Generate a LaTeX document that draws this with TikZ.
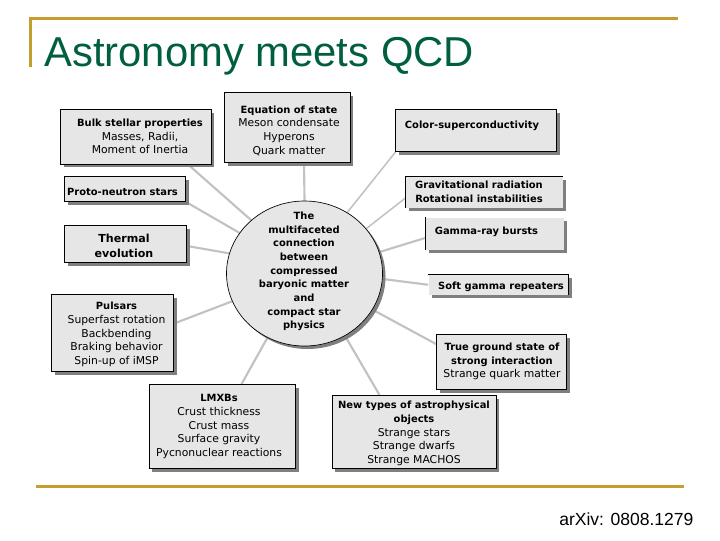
\documentclass[tikz,border=0pt]{standalone}
\usepackage{fontspec}
\setmainfont{DejaVu Sans}
\newfontfamily\arialfont{Liberation Sans}
\usetikzlibrary{fit,shadows,shapes.geometric,backgrounds,calc}
\definecolor{gold}{HTML}{C39F2F}
\definecolor{titlegreen}{HTML}{005F3E}
\definecolor{panelfill}{HTML}{E6E6E6}
\definecolor{shade}{HTML}{7F7F7F}
\definecolor{linkgray}{HTML}{C2C2C2}
\newcommand\hd[1]{{\fontsize{7.45}{10.25}\selectfont\bfseries #1}}
\tikzset{
  x=0.75pt,y=-0.75pt,
  rule/.style={draw=gold,line width=2.25pt},
  shadowed/.style={copy shadow={shadow xshift=2.25pt,shadow yshift=-2.25pt,fill=shade,draw=none}},
  panel/.style={shadowed,fill=panelfill,draw=black,line width=0.7pt,inner sep=0pt},
  openpanel/.style={shadowed,fill=panelfill,draw=none,inner sep=0pt},
  edge line/.style={draw=black,line width=0.7pt},
  hubnode/.style={shadowed,ellipse,fill=panelfill,draw=black,line width=0.5pt,inner sep=0pt,minimum width=117pt,minimum height=108.75pt},
  caption/.style={align=center,inner sep=0pt,font=\fontsize{8.1}{10.25}\selectfont},
  thermalcap/.style={align=center,inner sep=0pt,font=\fontsize{8.3}{11.25}\selectfont\bfseries},
  link/.style={draw=linkgray,line width=1.6pt},
  thinlink/.style={draw=linkgray,line width=1.15pt},
  title/.style={anchor=base west,inner sep=0pt,text=titlegreen,font=\arialfont\fontsize{31.35}{36}\selectfont},
  source/.style={anchor=base west,inner sep=0pt,font=\arialfont\fontsize{13.15}{15}\selectfont}
}
\begin{document}
\begin{tikzpicture}
\useasboundingbox (0,0) rectangle (720,540);
% frame rules
\coordinate (ruleA) at (30.5,67);
\coordinate (ruleB) at (30.5,18.5);
\coordinate (ruleC) at (678,18.5);
\coordinate (ruleD) at (36,486.5);
\coordinate (ruleE) at (684,486.5);
\draw[rule] (ruleA) -- (ruleB) -- (ruleC);
\draw[rule] (ruleD) -- (ruleE);
\node[title] (titletext) at (44,66.5) {Astronomy meets QCD};
\node[source] (sourcetext) at (559,525) {arXiv: 0808.1279};
% panels
\node[panel,fit={(60.5,109.5)(211,164)}] (bulk) {};
\node[panel,fit={(224.5,92.5)(350,162.5)}] (eos) {};
\node[panel,fit={(395.5,109.5)(556.5,151.5)}] (color) {};
\node[openpanel,fit={(406,176.5)(562.5,207.5)}] (grav) {};
\node[openpanel,fit={(426,217.5)(563.5,249.5)}] (gamma) {};
\node[openpanel,fit={(428.5,274.5)(568.5,295)}] (soft) {};
\node[panel,fit={(436.5,334.5)(566.5,389.5)}] (truegs) {};
\node[panel,fit={(332,395.5)(496,468.5)}] (newtypes) {};
\node[panel,fit={(149,384.5)(295.5,468.5)}] (lmxb) {};
\node[panel,fit={(51.5,294.5)(173.5,371.5)}] (pulsars) {};
\node[panel,fit={(64.5,225.5)(186.5,262.5)}] (thermal) {};
\node[panel,fit={(64.5,176.5)(185.5,201.5)}] (proto) {};
\node[hubnode] (hub) at (304.5,273.5) {};
% partial outlines of the three open panels
\draw[edge line] (grav.south west) -- (grav.north west) -- (grav.north east);
\draw[edge line] (gamma.north west) -- (gamma.south west);
\draw[edge line] (soft.north west) -- (soft.north east) -- (soft.south east);
% captions
\node[caption] (bulktext) at (140,136.5) {\hd{Bulk stellar properties}\\Masses, Radii,\\Moment of Inertia};
\node[caption] (eostext) at (289,130.5) {\hd{Equation of state}\\Meson condensate\\Hyperons\\Quark matter};
\node[caption] (colortext) at (472,125.5) {\hd{Color-superconductivity}};
\node[caption] (gravtext) at (479,192) {\hd{Gravitational radiation}\\\hd{Rotational instabilities}};
\node[caption] (gammatext) at (486.5,231.5) {\hd{Gamma-ray bursts}};
\node[caption] (softtext) at (501,286.5) {\hd{Soft gamma repeaters}};
\node[caption] (truetext) at (502,361.5) {\hd{True ground state of}\\\hd{strong interaction}\\Strange quark matter};
\node[caption] (newtext) at (414,433.5) {\hd{New types of astrophysical}\\\hd{objects}\\Strange stars\\Strange dwarfs\\Strange MACHOS};
\node[caption] (lmxbtext) at (219,426.5) {\hd{LMXBs}\\Crust thickness\\Crust mass\\Surface gravity\\Pycnonuclear reactions};
\node[caption] (pulsartext) at (116.5,334.5) {\hd{Pulsars}\\Superfast rotation\\Backbending\\Braking behavior\\Spin-up of iMSP};
\node[thermalcap] (thermaltext) at (124,246) {Thermal\\evolution};
\node[caption] (prototext) at (122.5,192) {\hd{Proto-neutron stars}};
\node[caption] (hubtext) at (304,271.5) {\hd{The}\\\hd{multifaceted}\\\hd{connection}\\\hd{between}\\\hd{compressed}\\\hd{baryonic matter}\\\hd{and}\\\hd{compact star}\\\hd{physics}};
% connectors
\begin{scope}[on background layer]
\fill[white] (0,0) rectangle (720,540);
\draw[link] ($(bulk.south west)+(128,0)$) -- (hub.135);
\draw[link] ($(eos.south west)+(80,0)$) -- (hub.90);
\draw[thinlink] ($(color.south west)+(0.5,0)$) -- (hub.55);
\draw[thinlink] ($(grav.south west)+(0,-10)$) -- (hub.36.5);
\draw[link] ($(gamma.south west)+(0,-12)$) -- (hub.16.6);
\draw[link] (soft.west) -- (hub.-4.7);
\draw[link] ($(truegs.north west)+(0,10)$) -- (hub.-28.6);
\draw[link] ($(newtypes.north west)+(48,0)$) -- (hub.-57);
\draw[link] ($(lmxb.north west)+(93,0)$) -- (hub.240.6);
\draw[link] ($(pulsars.north east)+(0,29.5)$) -- (hub.201);
\draw[link] ($(thermal.south east)+(0,-17)$) -- (hub.165);
\draw[link] (proto.south east) -- (hub.148);
\end{scope}
\end{tikzpicture}
\end{document}
